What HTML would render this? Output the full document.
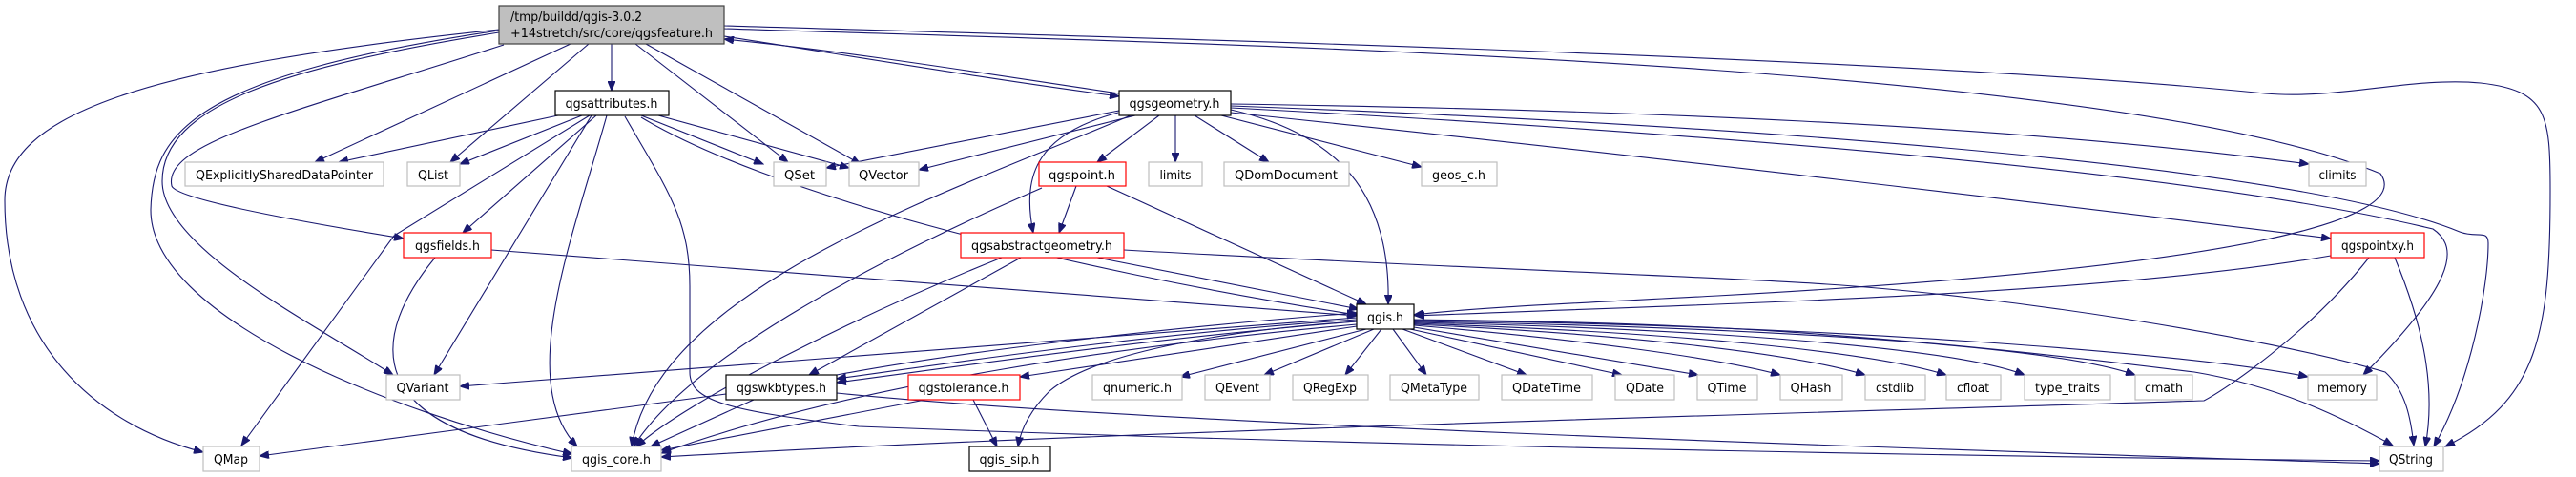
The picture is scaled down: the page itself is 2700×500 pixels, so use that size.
<!DOCTYPE html>
<html><head><meta charset="utf-8"><style>
html,body{margin:0;padding:0;background:#fff;}
svg{display:block;}
text{font-family:"DejaVu Sans","Liberation Sans",sans-serif;font-size:13px;fill:#000;}
.e{fill:none;stroke:#191970;stroke-width:1.1;marker-end:url(#a);}
.g{fill:#fff;stroke:#bfbfbf;stroke-width:1.2;}
.r{fill:#fff;stroke:#ff0000;stroke-width:1.2;}
.b{fill:#fff;stroke:#000;stroke-width:1.2;}
</style></head><body>
<svg width="2700" height="500" viewBox="0 0 2700 500" xmlns="http://www.w3.org/2000/svg">
<defs><marker id="a" markerWidth="11" markerHeight="8" refX="10" refY="4" orient="auto" markerUnits="userSpaceOnUse"><path d="M0,0 L10,4 L0,8 z" fill="#191970" stroke="#191970"/></marker></defs>
<g>
<path class="e" d="M641 46 L641 95"/>
<path class="e" d="M598 46 L330 170"/>
<path class="e" d="M617 46 L472 170"/>
<path class="e" d="M666 46 L826 170"/>
<path class="e" d="M677 46 L902 172"/>
<path class="e" d="M528 47 C300 120,170 150,180 195 C185 208,300 230,423 250"/>
<path class="e" d="M523 34 C300 70,170 110,170 190 C170 260,330 340,412 393"/>
<path class="e" d="M523 32 C200 80,160 140,158 220 C158 330,400 430,600 476"/>
<path class="e" d="M523 31 C150 70,5 120,5 210 C5 360,100 445,213 474"/>
<path class="e" d="M759 38 C900 60,1050 85,1173 101"/>
<path class="e" d="M1173 98 C1050 80,900 55,759 41"/>
<path class="e" d="M759 27 C1200 40,2000 60,2374 98 C2450 105,2530 80,2600 87 C2670 95,2673 120,2673 200 C2673 350,2660 420,2563 468"/>
<path class="e" d="M759 30 C1200 45,2200 60,2495 182 C2530 230,2350 280,1800 310 C1650 318,1550 322,1482 330"/>
<path class="e" d="M1173 116 L866 176"/>
<path class="e" d="M1190 121 L963 178"/>
<path class="e" d="M1215 121 L1150 170"/>
<path class="e" d="M1232 121 L1232 170"/>
<path class="e" d="M1252 121 L1330 170"/>
<path class="e" d="M1280 121 L1490 175"/>
<path class="e" d="M1172 118 C1090 140,1070 180,1083 244"/>
<path class="e" d="M1290 115 C1400 140,1458 200,1455 319"/>
<path class="e" d="M1185 121 C1000 200,690 300,662 468"/>
<path class="e" d="M1290 109 C1700 115,2100 130,2420 172"/>
<path class="e" d="M1290 113 C1800 140,2300 180,2550 240 C2580 260,2570 300,2477 393"/>
<path class="e" d="M1290 111 C1800 130,2400 170,2578 243 C2596 250,2608 240,2608 255 C2608 300,2590 400,2551 468"/>
<path class="e" d="M1290 118 C1700 160,2200 220,2443 250"/>
<path class="e" d="M585 121 L355 170"/>
<path class="e" d="M610 121 L482 172"/>
<path class="e" d="M672 121 L800 172"/>
<path class="e" d="M690 121 L890 176"/>
<path class="e" d="M625 121 L485 244"/>
<path class="e" d="M620 121 L455 393"/>
<path class="e" d="M618 121 L413 247 L253 467"/>
<path class="e" d="M636 121 C600 250,540 400,605 468"/>
<path class="e" d="M672 123 C800 200,1100 280,1422 330"/>
<path class="e" d="M655 122 C700 200,723 230,723 300 L723 390 C723 420,760 430,900 447 C1500 470,2200 480,2494 483"/>
<path class="e" d="M515 262 L1422 331"/>
<path class="e" d="M456 270 C390 350,370 450,600 480"/>
<path class="e" d="M1128 195 L1110 244"/>
<path class="e" d="M1160 195 L1432 319"/>
<path class="e" d="M1092 197 C900 280,720 380,664 468"/>
<path class="e" d="M1150 270 L1424 324"/>
<path class="e" d="M1050 270 C900 330,720 420,667 468"/>
<path class="e" d="M1070 270 L848 393"/>
<path class="e" d="M1178 262 C1500 280,1800 290,1915 298 C2100 310,2374 353,2500 390 C2522 410,2527 440,2530 467"/>
<path class="e" d="M2443 268 C2200 310,1800 318,1483 331"/>
<path class="e" d="M2510 270 C2535 330,2555 400,2542 468"/>
<path class="e" d="M2483 270 C2420 350,2330 410,2310 420 C2000 430,1200 450,693 479"/>
<path class="e" d="M1422 333 L482 405"/>
<path class="e" d="M1422 335 C1200 350,1000 380,877 397"/>
<path class="e" d="M1422 337 C1200 355,1000 385,877 401"/>
<path class="e" d="M877 393 C1000 370,1200 345,1422 328"/>
<path class="e" d="M1422 340 C1200 360,900 400,693 475"/>
<path class="e" d="M1422 342 L1069 395"/>
<path class="e" d="M1422 337 C1300 345,1150 367,1100 410 C1080 430,1070 450,1067 468"/>
<path class="e" d="M1432 345 L1237 395"/>
<path class="e" d="M1440 345 L1325 393"/>
<path class="e" d="M1448 345 L1410 393"/>
<path class="e" d="M1460 345 L1495 393"/>
<path class="e" d="M1470 345 L1600 393"/>
<path class="e" d="M1478 345 L1700 393"/>
<path class="e" d="M1482 343 L1780 393"/>
<path class="e" d="M1482 341 C1650 355,1800 375,1866 393"/>
<path class="e" d="M1482 340 C1700 350,1880 370,1955 393"/>
<path class="e" d="M1482 339 C1750 348,1960 368,2040 393"/>
<path class="e" d="M1482 338 C1800 345,2050 365,2122 393"/>
<path class="e" d="M1482 337 C1850 343,2150 362,2238 393"/>
<path class="e" d="M1482 336 C1900 340,2300 370,2419 395"/>
<path class="e" d="M1482 335 C1700 338,1900 340,2300 390 C2390 405,2460 440,2508 467"/>
<path class="e" d="M761 413 L272 478"/>
<path class="e" d="M790 419 L682 468"/>
<path class="e" d="M877 412 C1200 445,2000 470,2494 486"/>
<path class="e" d="M970 419 L693 472"/>
<path class="e" d="M1020 419 L1045 468"/>
</g>
<rect x="523" y="6" width="236" height="40" fill="#bfbfbf" stroke="#404040" stroke-width="1.2"/>
<text x="535" y="22" textLength="138" lengthAdjust="spacingAndGlyphs">/tmp/buildd/qgis-3.0.2</text>
<text x="535" y="39" textLength="212" lengthAdjust="spacingAndGlyphs">+14stretch/src/core/qgsfeature.h</text>
<g text-anchor="middle">
<rect class="b" x="582" y="95" width="119" height="26"/><text x="641" y="113" textLength="97" lengthAdjust="spacingAndGlyphs">qgsattributes.h</text>
<rect class="b" x="1173" y="95" width="117" height="26"/><text x="1231" y="113" textLength="95" lengthAdjust="spacingAndGlyphs">qgsgeometry.h</text>
<rect class="g" x="194" y="170" width="208" height="25"/><text x="298" y="188" textLength="186" lengthAdjust="spacingAndGlyphs">QExplicitlySharedDataPointer</text>
<rect class="g" x="427" y="170" width="55" height="25"/><text x="454" y="188" textLength="32" lengthAdjust="spacingAndGlyphs">QList</text>
<rect class="g" x="811" y="170" width="55" height="25"/><text x="838" y="188" textLength="32" lengthAdjust="spacingAndGlyphs">QSet</text>
<rect class="g" x="890" y="170" width="73" height="25"/><text x="926" y="188" textLength="52" lengthAdjust="spacingAndGlyphs">QVector</text>
<rect class="r" x="1089" y="170" width="91" height="25"/><text x="1134" y="188" textLength="70" lengthAdjust="spacingAndGlyphs">qgspoint.h</text>
<rect class="g" x="1204" y="170" width="56" height="25"/><text x="1232" y="188" textLength="33" lengthAdjust="spacingAndGlyphs">limits</text>
<rect class="g" x="1283" y="170" width="131" height="25"/><text x="1348" y="188" textLength="108" lengthAdjust="spacingAndGlyphs">QDomDocument</text>
<rect class="g" x="1490" y="170" width="79" height="25"/><text x="1529" y="188" textLength="56" lengthAdjust="spacingAndGlyphs">geos_c.h</text>
<rect class="g" x="2420" y="170" width="60" height="25"/><text x="2450" y="188" textLength="39" lengthAdjust="spacingAndGlyphs">climits</text>
<rect class="r" x="423" y="244" width="92" height="26"/><text x="469" y="262" textLength="68" lengthAdjust="spacingAndGlyphs">qgsfields.h</text>
<rect class="r" x="1007" y="244" width="171" height="26"/><text x="1092" y="262" textLength="148" lengthAdjust="spacingAndGlyphs">qgsabstractgeometry.h</text>
<rect class="r" x="2443" y="244" width="98" height="26"/><text x="2492" y="262" textLength="76" lengthAdjust="spacingAndGlyphs">qgspointxy.h</text>
<rect class="b" x="1422" y="319" width="60" height="26"/><text x="1452" y="337" textLength="38" lengthAdjust="spacingAndGlyphs">qgis.h</text>
<rect class="g" x="405" y="393" width="77" height="26"/><text x="443" y="411" textLength="55" lengthAdjust="spacingAndGlyphs">QVariant</text>
<rect class="b" x="761" y="393" width="116" height="26"/><text x="819" y="411" textLength="94" lengthAdjust="spacingAndGlyphs">qgswkbtypes.h</text>
<rect class="r" x="952" y="393" width="117" height="26"/><text x="1010" y="411" textLength="95" lengthAdjust="spacingAndGlyphs">qgstolerance.h</text>
<rect class="g" x="1145" y="393" width="94" height="26"/><text x="1192" y="411" textLength="72" lengthAdjust="spacingAndGlyphs">qnumeric.h</text>
<rect class="g" x="1263" y="393" width="68" height="26"/><text x="1297" y="411" textLength="46" lengthAdjust="spacingAndGlyphs">QEvent</text>
<rect class="g" x="1355" y="393" width="79" height="26"/><text x="1394" y="411" textLength="56" lengthAdjust="spacingAndGlyphs">QRegExp</text>
<rect class="g" x="1457" y="393" width="93" height="26"/><text x="1503" y="411" textLength="70" lengthAdjust="spacingAndGlyphs">QMetaType</text>
<rect class="g" x="1574" y="393" width="95" height="26"/><text x="1621" y="411" textLength="72" lengthAdjust="spacingAndGlyphs">QDateTime</text>
<rect class="g" x="1693" y="393" width="62" height="26"/><text x="1724" y="411" textLength="40" lengthAdjust="spacingAndGlyphs">QDate</text>
<rect class="g" x="1779" y="393" width="63" height="26"/><text x="1810" y="411" textLength="41" lengthAdjust="spacingAndGlyphs">QTime</text>
<rect class="g" x="1866" y="393" width="65" height="26"/><text x="1898" y="411" textLength="43" lengthAdjust="spacingAndGlyphs">QHash</text>
<rect class="g" x="1955" y="393" width="63" height="26"/><text x="1986" y="411" textLength="40" lengthAdjust="spacingAndGlyphs">cstdlib</text>
<rect class="g" x="2040" y="393" width="57" height="26"/><text x="2068" y="411" textLength="34" lengthAdjust="spacingAndGlyphs">cfloat</text>
<rect class="g" x="2122" y="393" width="90" height="26"/><text x="2167" y="411" textLength="68" lengthAdjust="spacingAndGlyphs">type_traits</text>
<rect class="g" x="2238" y="393" width="60" height="26"/><text x="2268" y="411" textLength="40" lengthAdjust="spacingAndGlyphs">cmath</text>
<rect class="g" x="2419" y="393" width="72" height="26"/><text x="2455" y="411" textLength="52" lengthAdjust="spacingAndGlyphs">memory</text>
<rect class="g" x="213" y="468" width="59" height="26"/><text x="242" y="486" textLength="36" lengthAdjust="spacingAndGlyphs">QMap</text>
<rect class="g" x="599" y="468" width="94" height="26"/><text x="646" y="486" textLength="72" lengthAdjust="spacingAndGlyphs">qgis_core.h</text>
<rect class="b" x="1016" y="468" width="85" height="26"/><text x="1058" y="486" textLength="63" lengthAdjust="spacingAndGlyphs">qgis_sip.h</text>
<rect class="g" x="2494" y="468" width="67" height="26"/><text x="2527" y="486" textLength="46" lengthAdjust="spacingAndGlyphs">QString</text>
</g>
</svg>
</body></html>
